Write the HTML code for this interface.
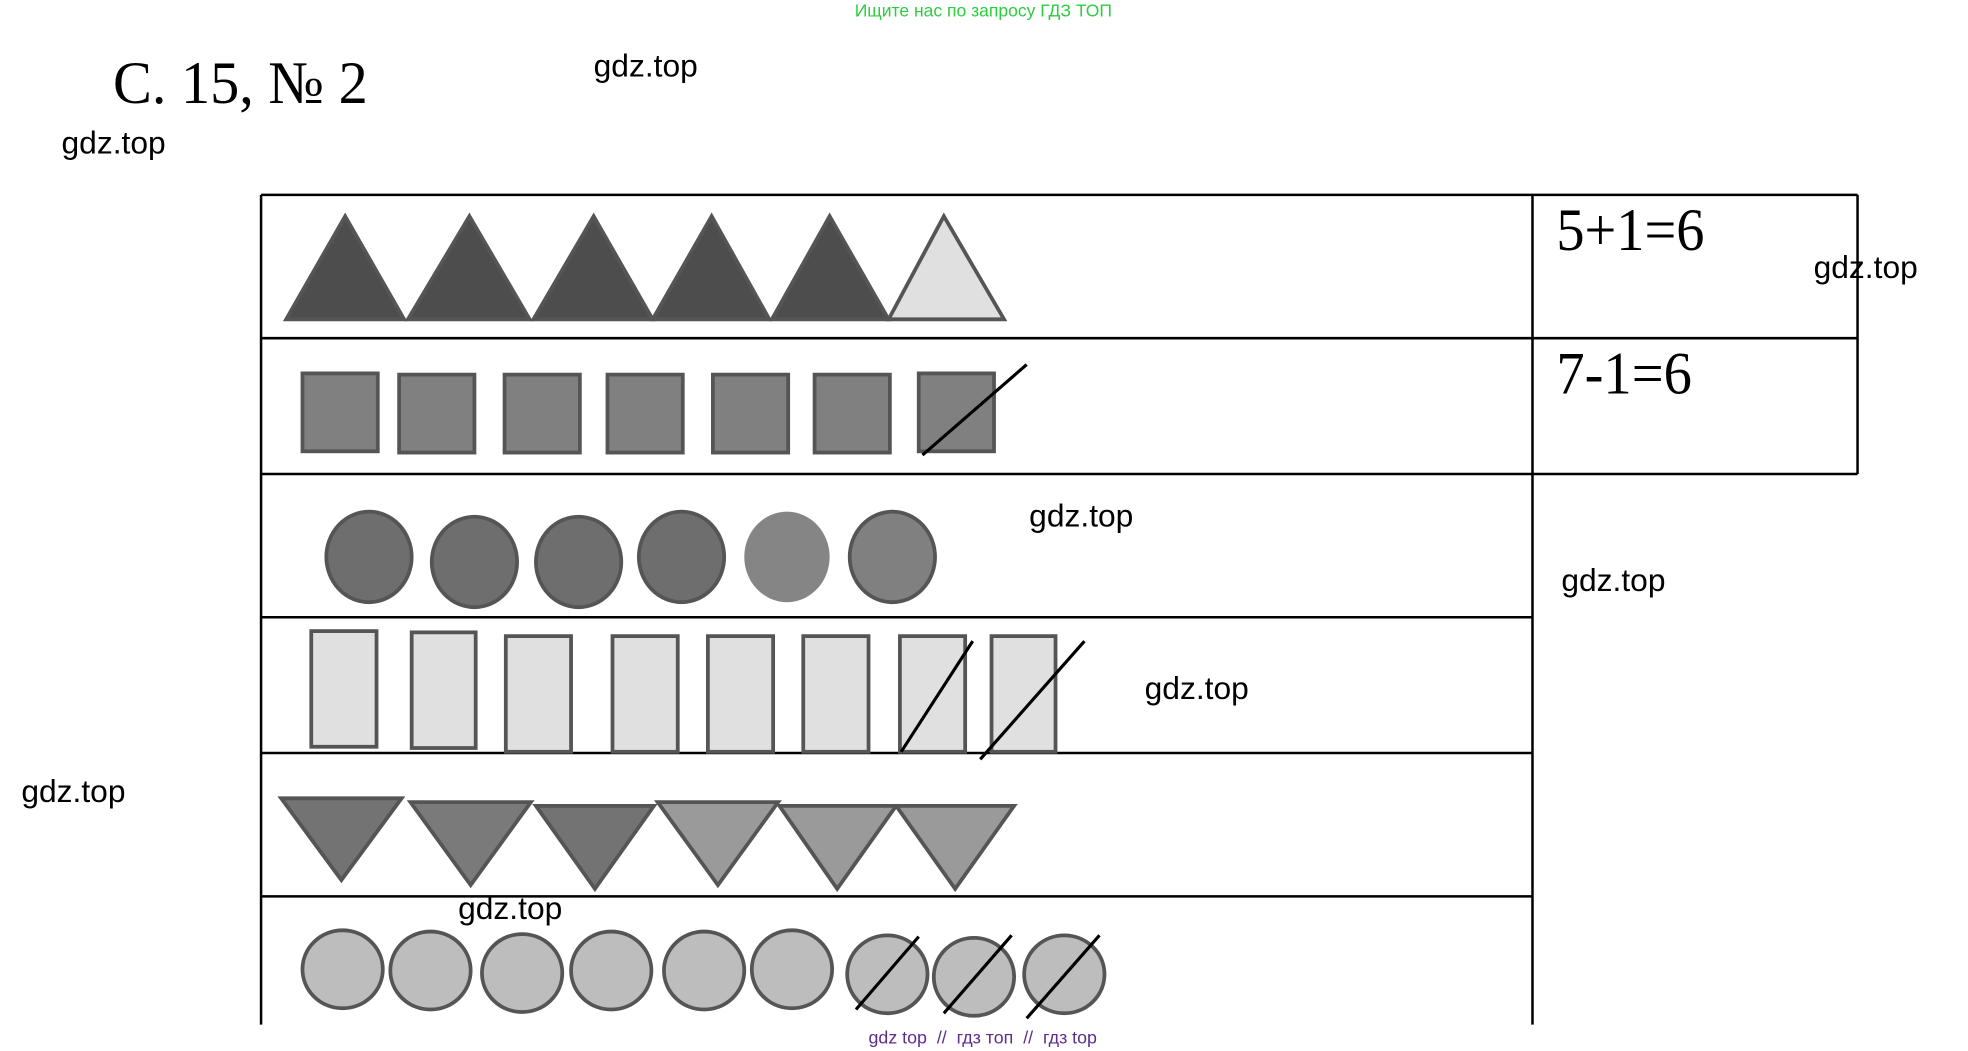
<!DOCTYPE html>
<html><head><meta charset="utf-8"><style>
html,body{margin:0;padding:0;background:#fff;width:1968px;height:1051px;overflow:hidden}
svg{display:block}
.g{font-family:"Liberation Sans","DejaVu Sans",sans-serif;font-size:25px;fill:#000}
.s{font-family:"Liberation Serif",serif;fill:#000}
</style></head><body>
<svg width="1968" height="1051" viewBox="0 0 1568 836" preserveAspectRatio="none" xmlns="http://www.w3.org/2000/svg">
<text x="681" y="13" textLength="205" lengthAdjust="spacingAndGlyphs" font-family="Liberation Sans, DejaVu Sans, sans-serif" font-size="14" fill="#2ecc40">Ищите нас по запросу ГДЗ ТОП</text>
<text class="s" x="90" y="82" font-size="48" textLength="203" lengthAdjust="spacingAndGlyphs">С. 15, № 2</text>
<text class="g" x="473" y="61" textLength="83" lengthAdjust="spacingAndGlyphs">gdz.top</text>
<text class="g" x="49" y="122" textLength="83" lengthAdjust="spacingAndGlyphs">gdz.top</text>
<text class="g" x="1445" y="221" textLength="83" lengthAdjust="spacingAndGlyphs">gdz.top</text>
<text class="g" x="820" y="419" textLength="83" lengthAdjust="spacingAndGlyphs">gdz.top</text>
<text class="g" x="1244" y="470" textLength="83" lengthAdjust="spacingAndGlyphs">gdz.top</text>
<text class="g" x="912" y="556" textLength="83" lengthAdjust="spacingAndGlyphs">gdz.top</text>
<text class="g" x="17" y="638" textLength="83" lengthAdjust="spacingAndGlyphs">gdz.top</text>
<text class="g" x="365" y="731" textLength="83" lengthAdjust="spacingAndGlyphs">gdz.top</text>

<g stroke="#000" stroke-width="2" fill="none">
<line x1="208" y1="155" x2="1480" y2="155"/>
<line x1="208" y1="269" x2="1480" y2="269"/>
<line x1="208" y1="377" x2="1480" y2="377"/>
<line x1="208" y1="491" x2="1221" y2="491"/>
<line x1="208" y1="599" x2="1221" y2="599"/>
<line x1="208" y1="713" x2="1221" y2="713"/>
<line x1="208" y1="155" x2="208" y2="815"/>
<line x1="1221" y1="155" x2="1221" y2="815"/>
<line x1="1480" y1="155" x2="1480" y2="377"/>
</g>
<text class="s" x="1240" y="199" font-size="48" textLength="118" lengthAdjust="spacingAndGlyphs">5+1=6</text>
<text class="s" x="1240" y="313" font-size="48" textLength="108" lengthAdjust="spacingAndGlyphs">7-1=6</text>

<g stroke="#555" stroke-width="3" stroke-linejoin="miter">
<polygon points="228,254 275,172 322,254" fill="#4d4d4d"/>
<polygon points="325,254 374,172 422,254" fill="#4d4d4d"/>
<polygon points="425,254 473,172 520,254" fill="#4d4d4d"/>
<polygon points="520,254 567,172 613,254" fill="#4d4d4d"/>
<polygon points="615,254 661,172 708,254" fill="#4d4d4d"/>
<polygon points="708,254 752,172 800,254" fill="#e0e0e0"/>

<g fill="#808080">
<rect x="241" y="297" width="60" height="62"/>
<rect x="318" y="298" width="60" height="62"/>
<rect x="402" y="298" width="60" height="62"/>
<rect x="484" y="298" width="60" height="62"/>
<rect x="568" y="298" width="60" height="62"/>
<rect x="649" y="298" width="60" height="62"/>
<rect x="732" y="297" width="60" height="62"/>
</g>

<ellipse cx="294" cy="443" rx="34" ry="36" fill="#6e6e6e"/>
<ellipse cx="378" cy="447" rx="34" ry="36" fill="#6e6e6e"/>
<ellipse cx="461" cy="447" rx="34" ry="36" fill="#6e6e6e"/>
<ellipse cx="543" cy="443" rx="34" ry="36" fill="#6e6e6e"/>
<ellipse cx="627" cy="443" rx="34" ry="36" fill="#858585" stroke="none"/>
<ellipse cx="711" cy="443" rx="34" ry="36" fill="#808080"/>

<g fill="#e0e0e0">
<rect x="248" y="502" width="52" height="92"/>
<rect x="328" y="503" width="51" height="92"/>
<rect x="403" y="506" width="52" height="92"/>
<rect x="488" y="506" width="52" height="92"/>
<rect x="564" y="506" width="52" height="92"/>
<rect x="640" y="506" width="52" height="92"/>
<rect x="717" y="506" width="52" height="92"/>
<rect x="790" y="506" width="51" height="92"/>
</g>

<polygon points="224,635 320,635 272,700" fill="#737373"/>
<polygon points="327,638 423,638 375,704" fill="#7a7a7a"/>
<polygon points="427,641 521,641 474,707" fill="#737373"/>
<polygon points="524,638 620,638 572,704" fill="#9a9a9a"/>
<polygon points="621,641 714,641 667,707" fill="#9a9a9a"/>
<polygon points="714,641 808,641 761,707" fill="#9a9a9a"/>

<g fill="#bdbdbd">
<ellipse cx="273" cy="771" rx="32" ry="31"/>
<ellipse cx="343" cy="772" rx="32" ry="31"/>
<ellipse cx="416" cy="774" rx="32" ry="31"/>
<ellipse cx="487" cy="772" rx="32" ry="31"/>
<ellipse cx="561" cy="772" rx="32" ry="31"/>
<ellipse cx="631" cy="771" rx="32" ry="31"/>
<ellipse cx="707" cy="775" rx="32" ry="31"/>
<ellipse cx="776" cy="777" rx="32" ry="31"/>
<ellipse cx="848" cy="775" rx="32" ry="31"/>
</g>
</g>

<g stroke="#000" stroke-width="2.5">
<line x1="735" y1="362" x2="818" y2="290"/>
<line x1="718" y1="598" x2="775" y2="510"/>
<line x1="781" y1="604" x2="864" y2="510"/>
<line x1="682" y1="803" x2="732" y2="745"/>
<line x1="752" y1="806" x2="806" y2="744"/>
<line x1="818" y1="810" x2="876" y2="744"/>
</g>

<text x="692" y="830" textLength="182" lengthAdjust="spacingAndGlyphs" font-family="Liberation Sans, DejaVu Sans, sans-serif" font-size="14" fill="#5b2d8e" xml:space="preserve">gdz top  //  гдз топ  //  гдз top</text>
</svg>
</body></html>
